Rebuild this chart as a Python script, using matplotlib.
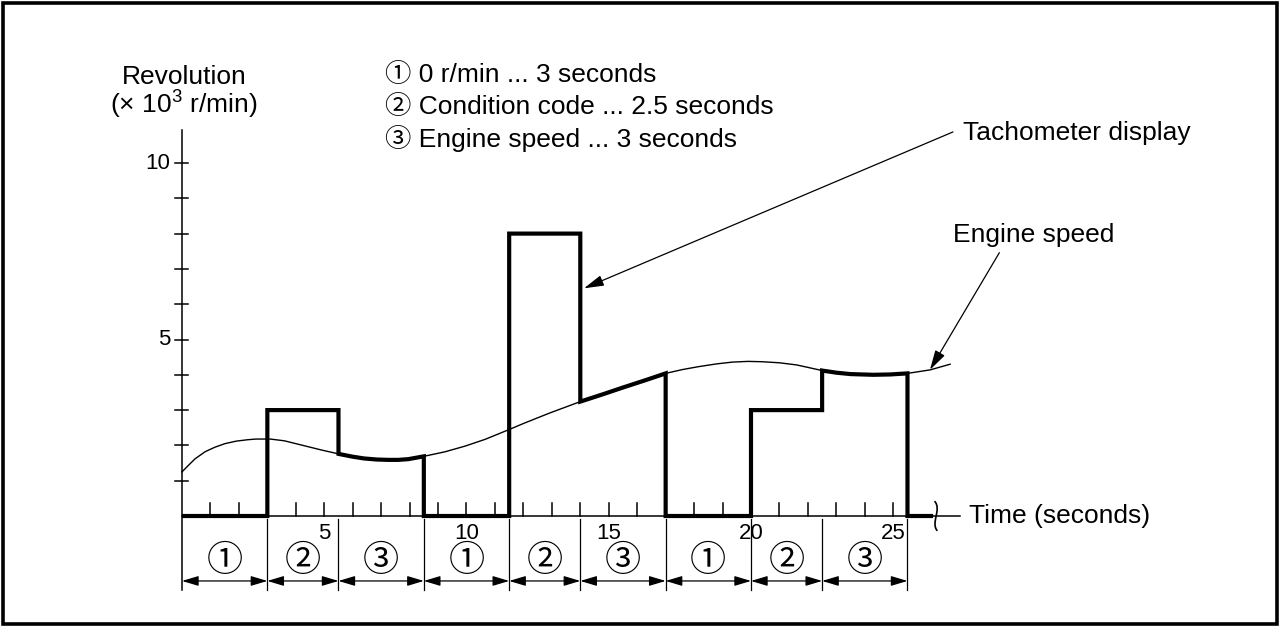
import numpy as np
import matplotlib
matplotlib.use("Agg")
import matplotlib.pyplot as plt
from matplotlib.patches import Rectangle, PathPatch
from matplotlib.path import Path

plt.rcParams['font.family'] = ['Liberation Sans', 'Noto Sans CJK JP', 'DejaVu Sans']
plt.rcParams['mathtext.fontset'] = 'custom'
plt.rcParams['mathtext.rm'] = 'Liberation Sans'

# engine speed curve (seconds, x10^3 r/min)
engine_t = np.array([0, 0.22, 0.46, 0.81, 1.16, 1.51, 1.9, 2.3, 2.6, 3.1, 3.6, 4.2, 4.9,
                     5.5, 6.0, 6.4, 6.85, 7.25, 7.6, 7.95, 8.5, 9.25, 9.95, 10.65, 11.5,
                     12.0, 12.9, 14.0, 14.8, 15.5, 16.3, 17.0, 17.6, 18.15, 18.8, 19.35,
                     19.9, 20.4, 21.0, 21.6, 22.0, 22.5, 23.0, 23.5, 24.3, 24.9, 25.5,
                     26.3, 27.0])
engine_v = np.array([1.25, 1.43, 1.62, 1.82, 1.95, 2.05, 2.12, 2.16, 2.18, 2.18, 2.13, 2.01, 1.87,
                     1.76, 1.68, 1.63, 1.60, 1.59, 1.59, 1.61, 1.69, 1.82, 1.98, 2.17, 2.45,
                     2.62, 2.91, 3.24, 3.45, 3.64, 3.85, 4.04, 4.15, 4.23, 4.31, 4.36,
                     4.38, 4.37, 4.34, 4.28, 4.21, 4.12, 4.06, 4.02, 4.0, 4.01, 4.04,
                     4.14, 4.3])

# display cycle: 1 = 0 r/min, 2 = condition code, 3 = engine speed
seg_phase = [1, 2, 3, 1, 2, 3, 1, 2, 3]
seg_start = [0, 3, 5.5, 8.5, 11.5, 14, 17, 20, 22.5]
seg_end = [3, 5.5, 8.5, 11.5, 14, 17, 20, 22.5, 25.5]
code_values = [3, 8, 3]
tail_end = 26.4

y_ticks = list(range(1, 11))
y_labels = {5: "5", 10: "10"}
x_ticks = list(range(1, 26))
x_labels = [5, 10, 15, 20, 25]
circled = {1: "\u2460", 2: "\u2461", 3: "\u2462"}

legend_lines = ["\u2460 0 r/min ... 3 seconds",
                "\u2461 Condition code ... 2.5 seconds",
                "\u2462 Engine speed ... 3 seconds"]

# figure: one axes covering the whole canvas, drawn by hand
fig = plt.figure(figsize=(12.8, 6.26), dpi=100)
ax = fig.add_axes([0, 0, 1, 1])
ax.set_xlim(-182 / 28.45, (1280 - 182) / 28.45)
ax.set_ylim((516 - 626) / 35.3, 516 / 35.3)
ax.axis("off")

fig.patches.append(Rectangle((0.002, 0.003), 0.996, 0.993, transform=fig.transFigure,
                             fill=False, lw=2.6, ec="black"))

ink = "black"

# axes lines
ax.plot([0, 0], [-2.1, 10.93], color=ink, lw=1.1)
ax.plot([0, 27.35], [0, 0], color=ink, lw=1.1)
for v in y_ticks:
    ax.plot([-0.24, 0.22], [v, v], color=ink, lw=1.1)
for v, s in y_labels.items():
    ax.text(-0.42, v, s, ha="right", va="center", fontsize=16)
for t in x_ticks:
    ax.plot([t, t], [0, 0.37], color=ink, lw=1.1)
for t in x_labels:
    ax.text(t, -0.5, str(t), ha="center", va="center", fontsize=16)

# break mark on time axis
brk = Path([(26.45, 0.42), (26.72, 0.2), (26.3, -0.2), (26.55, -0.42)],
           [Path.MOVETO, Path.CURVE4, Path.CURVE4, Path.CURVE4])
ax.add_patch(PathPatch(brk, fill=False, lw=1.2, ec=ink, zorder=4))

# engine speed (thin)
ax.plot(engine_t, engine_v, color=ink, lw=1.0, zorder=3)

# tachometer display (thick)
xs, ys = [], []
ci = 0
for p, a, b in zip(seg_phase, seg_start, seg_end):
    if p == 1:
        xs += [a, b]
        ys += [0, 0]
    elif p == 2:
        xs += [a, b]
        ys += [code_values[ci], code_values[ci]]
        ci += 1
    else:
        m = (engine_t >= a) & (engine_t <= b)
        xs += list(engine_t[m])
        ys += list(engine_v[m])
xs += [seg_end[-1], tail_end]
ys += [0, 0]
ax.plot(xs, ys, color=ink, lw=3.0, solid_joinstyle="miter", solid_capstyle="butt", zorder=5)

# dimension lines under the axis
bounds = [seg_start[0]] + seg_end
for b in bounds[1:]:
    ax.plot([b, b], [-0.09, -2.1], color=ink, lw=0.9)
for p, a, b in zip(seg_phase, seg_start, seg_end):
    ax.annotate("", xy=(a, -1.84), xytext=(b, -1.84),
                arrowprops=dict(arrowstyle="<|-|>,head_length=1.0,head_width=0.3",
                                mutation_scale=10, lw=0.9, color=ink,
                                shrinkA=0, shrinkB=0))
    ax.text((a + b) / 2, -1.29, circled[p], ha="center", va="center", fontsize=26)

# labels
ax.text(0.07, 12.24, "Revolution", ha="center", va="baseline", fontsize=19)
ax.text(0.04, 11.41, "(\u00d7 $\\mathregular{10^3}$ r/min)", ha="center", va="baseline", fontsize=19)
for i, s in enumerate(legend_lines):
    ax.text(7.14, 12.30 - i * 0.92, s, ha="left", va="baseline", fontsize=19)
ax.text(27.66, -0.2, "Time (seconds)", ha="left", va="baseline", fontsize=19)
ax.text(27.45, 10.65, "Tachometer display", ha="left", va="baseline", fontsize=19)
ax.text(27.09, 7.77, "Engine speed", ha="left", va="baseline", fontsize=19)

arrow = dict(arrowstyle="-|>,head_length=1.1,head_width=0.3", mutation_scale=11,
             lw=0.9, color=ink, shrinkA=0, shrinkB=0)
ax.annotate("", xy=(14.13, 6.45), xytext=(27.1, 10.88), arrowprops=arrow)
ax.annotate("", xy=(26.29, 4.14), xytext=(28.73, 7.46), arrowprops=arrow)

fig.savefig("out.png", dpi=100)
